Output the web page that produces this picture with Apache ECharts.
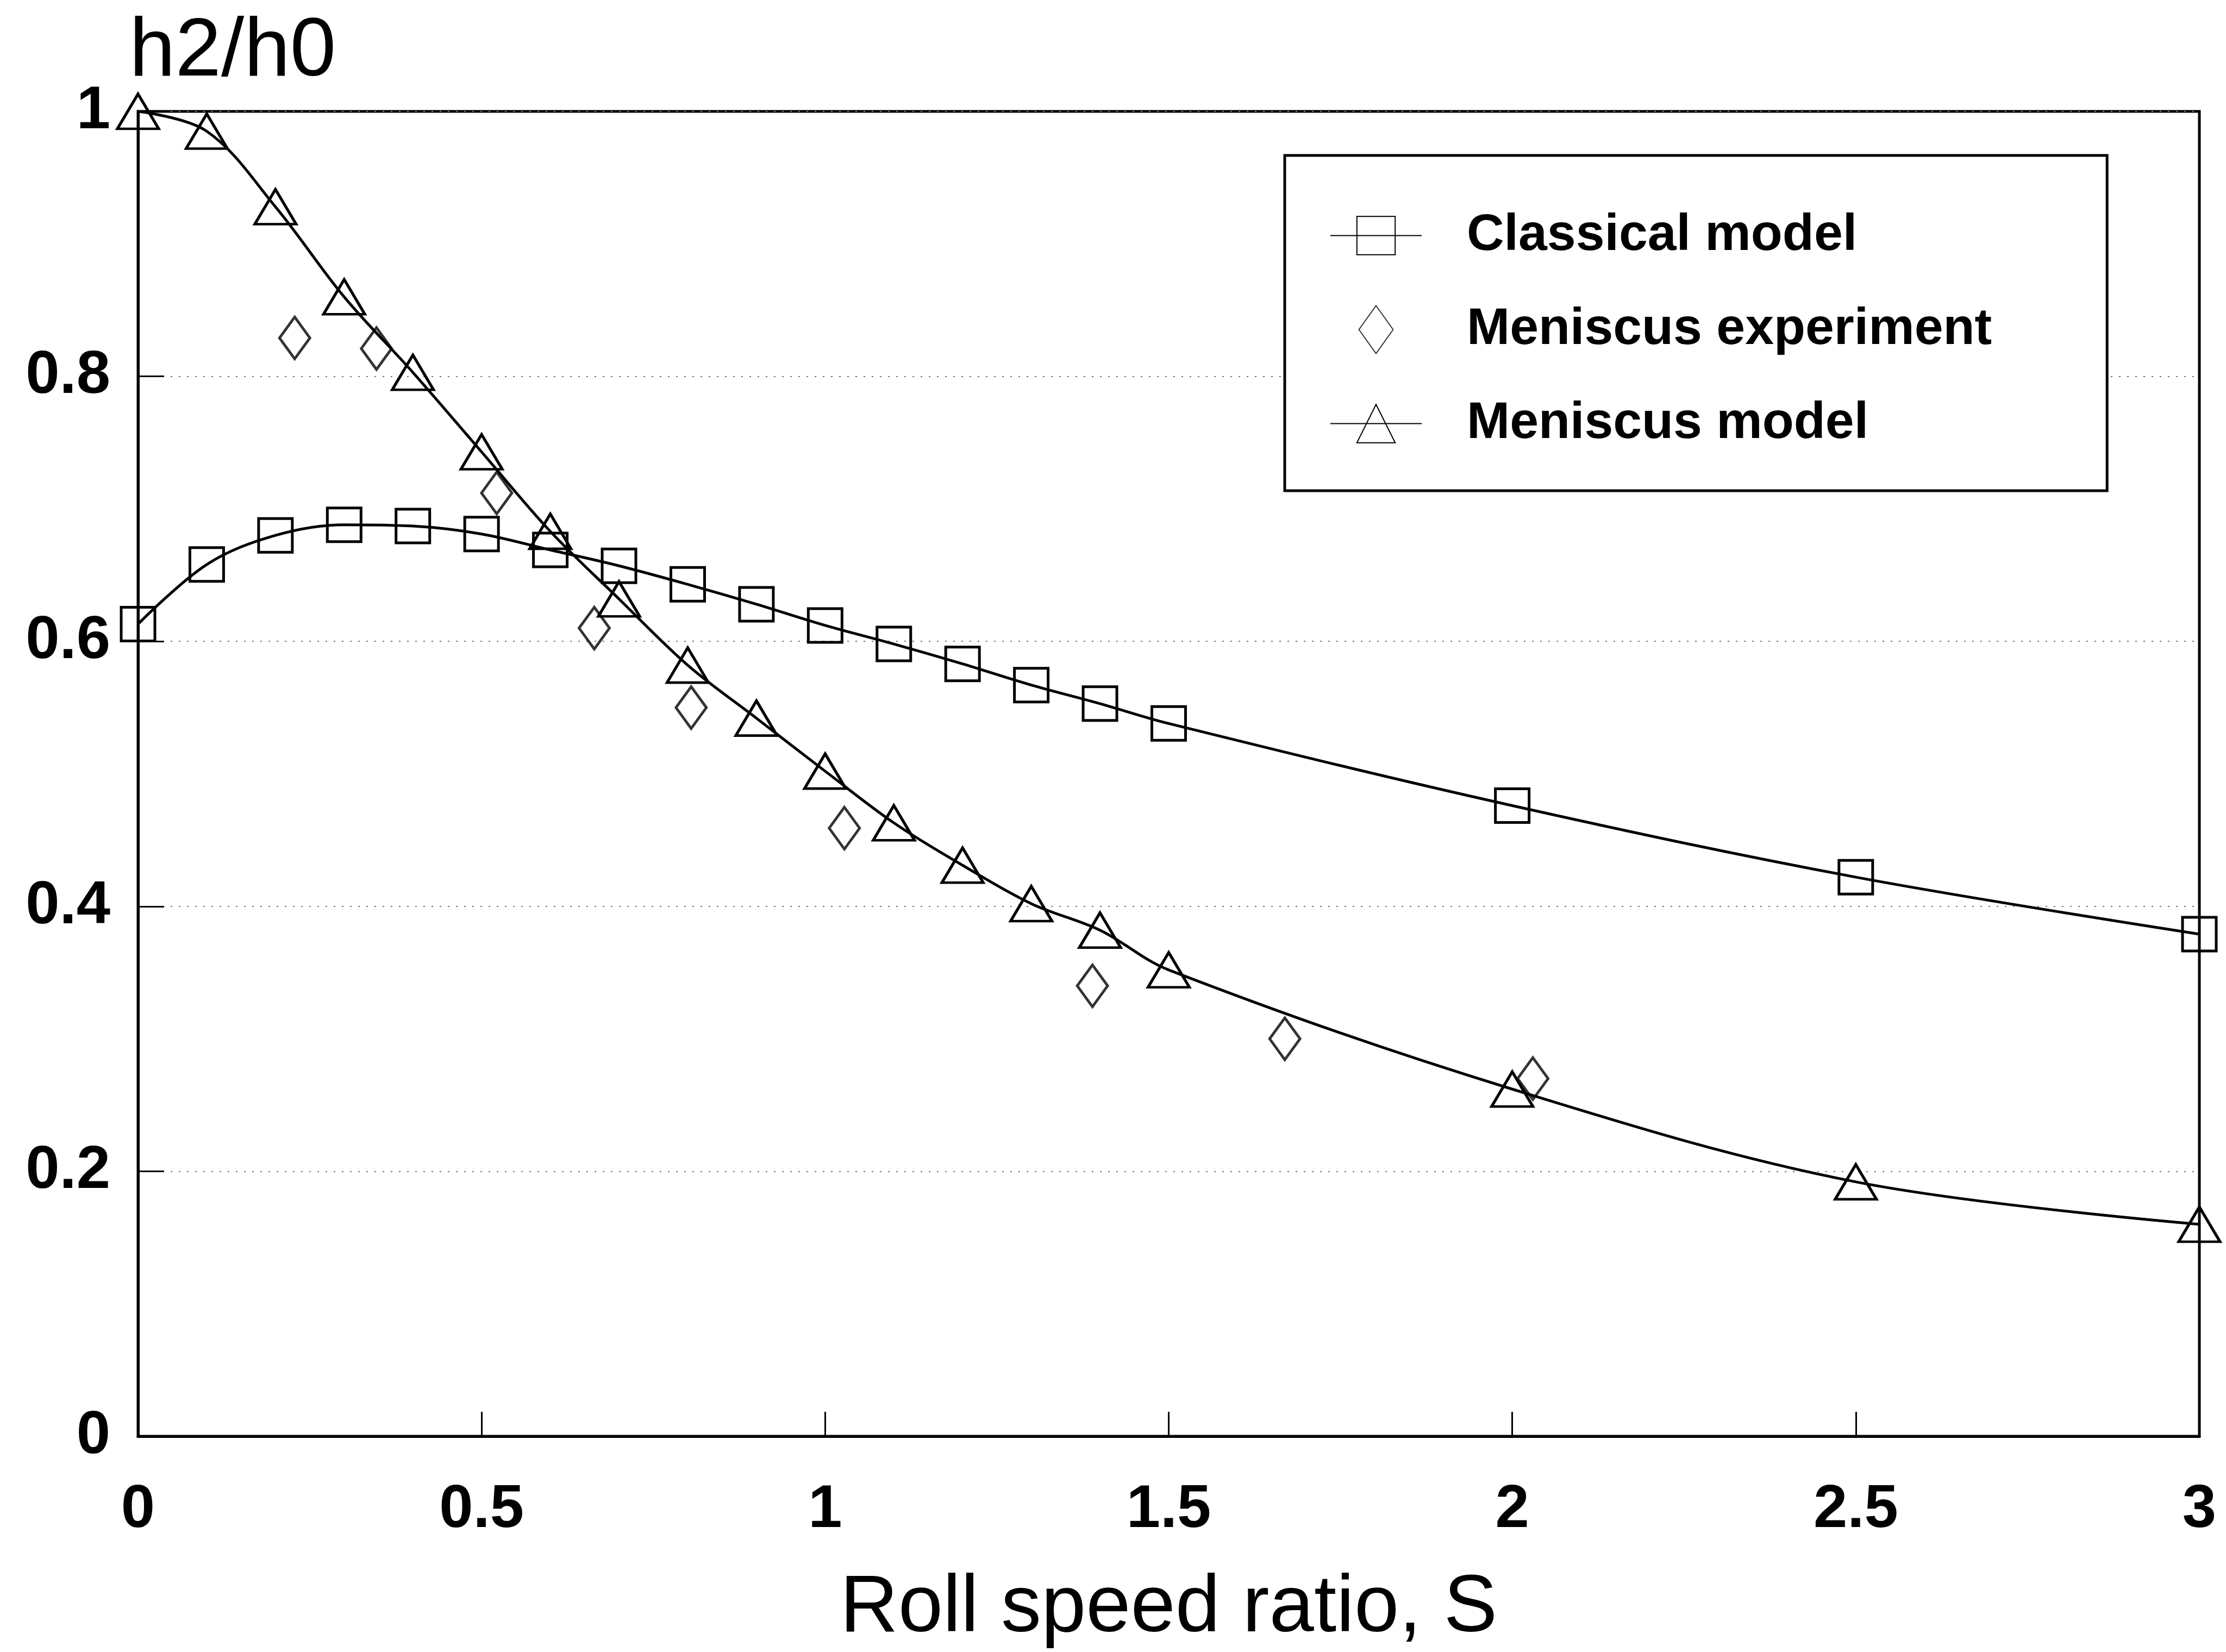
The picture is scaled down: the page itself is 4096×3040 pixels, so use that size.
<!DOCTYPE html>
<html>
<head>
<meta charset="utf-8">
<title>h2/h0 vs Roll speed ratio</title>
<script src="https://cdn.jsdelivr.net/npm/echarts@6/dist/echarts.min.js"></script>
<style>
  html, body { margin: 0; padding: 0; background: #fff; }
  #chart { width: 4096px; height: 3040px; }
</style>
</head>
<body>
<div id="chart"></div>
<script>
// Roll speed ratio S at which the two models were evaluated
const modelS = [0, 0.1, 0.2, 0.3, 0.4, 0.5, 0.6, 0.7, 0.8, 0.9, 1.0, 1.1, 1.2, 1.3, 1.4, 1.5, 2.0, 2.5, 3.0];
// h2/h0 predicted by the classical model
const classicalModel = [0.613, 0.658, 0.680, 0.688, 0.687, 0.681, 0.669, 0.657, 0.643, 0.628, 0.612, 0.598, 0.583, 0.567, 0.553, 0.538, 0.476, 0.422, 0.379];
// h2/h0 predicted by the meniscus model
const meniscusModel = [1.000, 0.985, 0.928, 0.860, 0.803, 0.743, 0.683, 0.632, 0.582, 0.542, 0.502, 0.463, 0.431, 0.402, 0.382, 0.352, 0.262, 0.192, 0.160];
// Measured points (meniscus experiment)
const experimentS = [0.228, 0.347, 0.522, 0.664, 0.805, 1.028, 1.389, 1.669, 2.030];
const experimentH = [0.829, 0.821, 0.712, 0.610, 0.550, 0.459, 0.340, 0.300, 0.270];

const seriesNames = ['Classical model', 'Meniscus experiment', 'Meniscus model'];
const xTitle = 'Roll speed ratio, S';
const yTitle = 'h2/h0';

const pairs = (xs, ys) => xs.map((x, i) => [x, ys[i]]);

const FONT = '"Liberation Sans", Arial, Helvetica, sans-serif';
const INK = '#000';
const HOLLOW = 'rgba(0,0,0,0)';

const chart = echarts.init(document.getElementById('chart'), null, { renderer: 'canvas' });

chart.setOption({
  animation: false,
  backgroundColor: '#fff',
  grid: {
    left: 254, right: 49, top: 205, bottom: 393,
    show: true, borderColor: INK, borderWidth: 5, backgroundColor: 'transparent'
  },
  legend: {
    orient: 'vertical',
    left: 2364, top: 286,
    padding: [100, 212, 76, 83],
    itemWidth: 168, itemHeight: 88, itemGap: 78,
    borderColor: INK, borderWidth: 5, backgroundColor: '#fff',
    selectedMode: false,
    textStyle: { fontFamily: FONT, fontWeight: 'bold', fontSize: 95, color: INK, padding: [0, 0, 0, 78] },
    data: [
      { name: seriesNames[0] },
      { name: seriesNames[1], icon: 'path://M0,-1.4L1,0L0,1.4L-1,0Z' },
      { name: seriesNames[2] }
    ]
  },
  xAxis: {
    type: 'value', min: 0, max: 3, interval: 0.5,
    name: xTitle, nameLocation: 'middle', nameGap: 244,
    nameTextStyle: { fontFamily: FONT, fontSize: 148, color: INK },
    axisLine: { show: true, lineStyle: { color: INK, width: 5 } },
    axisTick: { show: true, inside: true, length: 45, lineStyle: { color: INK, width: 3 } },
    axisLabel: { margin: 80, fontFamily: FONT, fontWeight: 'bold', fontSize: 112, color: INK },
    splitLine: { show: false }
  },
  yAxis: {
    type: 'value', min: 0, max: 1, interval: 0.2,
    name: yTitle, nameLocation: 'end', nameGap: 32,
    nameTextStyle: { fontFamily: FONT, fontSize: 152, color: INK, align: 'left', verticalAlign: 'bottom', padding: [0, 0, 0, -16] },
    axisLine: { show: true, lineStyle: { color: INK, width: 5 } },
    axisTick: { show: true, inside: true, length: 48, lineStyle: { color: INK, width: 3 } },
    axisLabel: { margin: 51, fontFamily: FONT, fontWeight: 'bold', fontSize: 112, color: INK },
    splitLine: { show: true, lineStyle: { color: '#777', width: 2, type: [3, 12] } }
  },
  series: [
    {
      name: seriesNames[0], type: 'line', smooth: 0.35,
      data: pairs(modelS, classicalModel),
      symbol: 'rect', symbolSize: [62, 62],
      lineStyle: { color: INK, width: 5 },
      itemStyle: { color: HOLLOW, borderColor: INK, borderWidth: 5 },
      z: 3
    },
    {
      name: seriesNames[1], type: 'scatter',
      data: pairs(experimentS, experimentH),
      symbol: 'diamond', symbolSize: [56, 77],
      itemStyle: { color: HOLLOW, borderColor: INK, borderWidth: 5 },
      z: 4
    },
    {
      name: seriesNames[2], type: 'line', smooth: 0.35,
      data: pairs(modelS, meniscusModel),
      symbol: 'triangle', symbolSize: [76, 64],
      lineStyle: { color: INK, width: 5 },
      itemStyle: { color: HOLLOW, borderColor: INK, borderWidth: 5 },
      z: 3
    }
  ]
});
</script>
</body>
</html>
